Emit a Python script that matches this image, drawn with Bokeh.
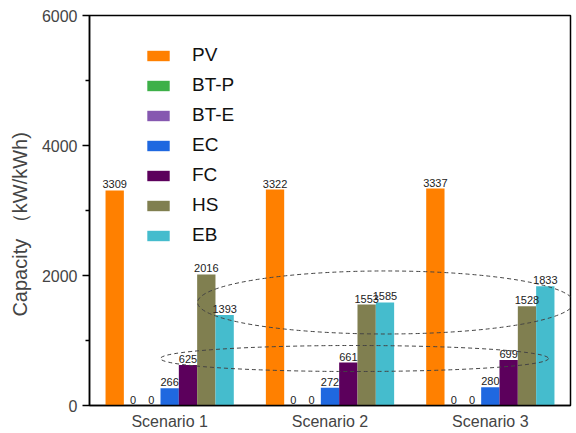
from bokeh.plotting import figure
from bokeh.models import ColumnDataSource, Range1d, FactorRange, LabelSet, Legend, LegendItem, FixedTicker
from bokeh.core.properties import value
from bokeh.transform import dodge
from bokeh.embed import file_html
from bokeh.resources import INLINE

scenarios = ["Scenario 1", "Scenario 2", "Scenario 3"]
series = ["PV", "BT-P", "BT-E", "EC", "FC", "HS", "EB"]
PV = [3309, 3322, 3337]
BT_P = [0, 0, 0]
BT_E = [0, 0, 0]
EC = [266, 272, 280]
FC = [625, 661, 699]
HS = [2016, 1553, 1528]
EB = [1393, 1585, 1833]
colors = ["#FF8000", "#3DB048", "#8658B0", "#1F68E0", "#5C005C", "#807F50", "#45BCCD"]
y_ticks = [0, 2000, 4000, 6000]

# dashed highlight ellipses (x in category units, y in data units)
ell_big = dict(x=1.847, y=1585, w=2.346, h=970)
ell_small = dict(x=1.653, y=723, w=2.42, h=400)

values = [PV, BT_P, BT_E, EC, FC, HS, EB]
data = {"x": scenarios}
for name, vals in zip(series, values):
    data[name] = vals
    data[name + "_lbl"] = [str(v) for v in vals]
src = ColumnDataSource(data)

FONT = "Liberation Sans"
p = figure(width=576, height=433, x_range=FactorRange(*scenarios, range_padding=0),
           y_range=Range1d(0, 6000), output_backend="svg", toolbar_location=None,
           min_border_left=89, min_border_right=6, min_border_top=15, min_border_bottom=28)
p.xgrid.visible = False
p.ygrid.visible = False
p.outline_line_color = "black"
p.outline_line_width = 1.5
p.background_fill_color = "white"
p.border_fill_color = "white"

bw = 0.8 / 7
items = []
for i, (name, col) in enumerate(zip(series, colors)):
    off = (i - 3) * bw
    r = p.vbar(x=dodge("x", off, range=p.x_range), top=name, width=bw, source=src,
               fill_color=col, line_color=None)
    items.append(LegendItem(label=name, renderers=[r]))
    lbl = LabelSet(x=dodge("x", off, range=p.x_range), y=name, text=name + "_lbl", source=src,
                   text_align="center", text_baseline="bottom", y_offset=2,
                   text_font=value(FONT), text_font_size="11px", text_color="#222222")
    p.add_layout(lbl)

for e in (ell_big, ell_small):
    p.ellipse(x=e["x"], y=e["y"], width=e["w"], height=e["h"], fill_color=None,
              line_color="#444444", line_width=1, line_dash="4 3")

legend = Legend(items=items, location=(55, 159), padding=0, margin=0, spacing=8,
                label_height=20, glyph_height=13, glyph_width=28, label_standoff=20,
                label_text_font=FONT, label_text_font_size="19px", label_text_color="#111111",
                border_line_color=None, background_fill_alpha=0)
p.add_layout(legend)

p.yaxis.ticker = FixedTicker(ticks=y_ticks, minor_ticks=[1000, 3000, 5000])
p.yaxis.axis_label = "Capacity （kW/kWh)\u00a0\u00a0\u00a0\u00a0\u00a0"
p.yaxis.axis_label_text_font = FONT
p.yaxis.axis_label_text_font_style = "normal"
p.yaxis.axis_label_text_font_size = "20px"
p.yaxis.axis_label_standoff = 8
p.yaxis.major_label_text_font = FONT
p.yaxis.major_label_text_font_size = "16px"
p.yaxis.major_label_standoff = 5
p.yaxis.major_tick_out = 7
p.yaxis.major_tick_in = 0
p.yaxis.minor_tick_out = 4
p.yaxis.minor_tick_in = 0
p.yaxis.axis_line_width = 1.5
p.yaxis.major_tick_line_width = 1.5
p.yaxis.minor_tick_line_width = 1.5

p.xaxis.major_tick_line_color = None
p.xaxis.minor_tick_line_color = None
p.xaxis.major_tick_out = 0
p.xaxis.major_tick_in = 0
p.xaxis.minor_tick_out = 0
p.xaxis.minor_tick_in = 0
p.xaxis.major_label_text_font = FONT
p.xaxis.major_label_text_font_size = "16px"
p.xaxis.major_label_standoff = 7
p.xaxis.axis_line_width = 1.5

open("out.html", "w").write(file_html(p, INLINE))
